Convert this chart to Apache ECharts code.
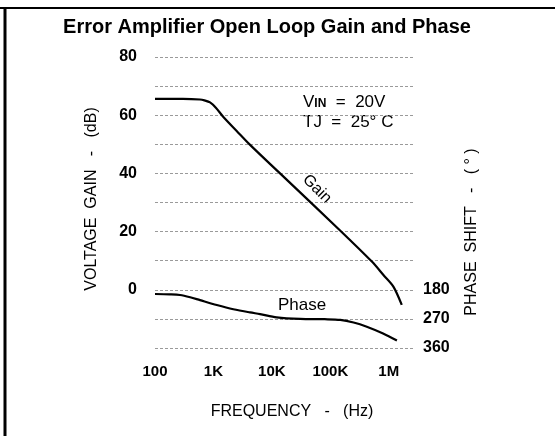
<!DOCTYPE html>
<html>
<head>
<meta charset="utf-8">
<script src="https://cdn.jsdelivr.net/npm/echarts@6/dist/echarts.min.js"></script>
<style>html,body{margin:0;padding:0;background:#fff;}#c{width:555px;height:436px;}</style>
</head>
<body>
<div id="c"></div>
<script>
// Frequency (Hz) and values
var gainFreq = [100, 300, 590, 700, 875, 1100, 1480, 2500, 4240, 13800, 147000, 514000, 811000, 1200000, 1670000];
var gainDb   = [65.6, 65.6, 65.4, 65.1, 64.4, 62.6, 59.4, 54.6, 49.8, 40.0, 20.4, 9.7, 5.1, 1.1, -5.2];
var phaseFreq = [100, 180, 268, 400, 590, 1140, 2190, 4240, 6280, 12100, 30400, 80000, 148000, 250000, 421000, 800000, 1380000];
var phaseDeg  = [193, 194, 196, 203, 212, 227, 240, 250, 255, 265, 270, 271, 273, 281, 294, 315, 337];
var freqTickLabels = {100: '100', 1000: '1K', 10000: '10K', 100000: '100K', 1000000: '1M'};
var gainTickLabels = [0, 20, 40, 60, 80];
var phaseTickLabels = [180, 270, 360];

var FONT = '"Liberation Sans", Arial, sans-serif';
var chart = echarts.init(document.getElementById('c'), null, {renderer: 'canvas'});

function pairs(xs, ys) { return xs.map(function (x, i) { return [x, ys[i]]; }); }

var gridLine = {show: true, lineStyle: {color: '#9a9a9a', width: 1, type: [3, 2]}};

chart.setOption({
  backgroundColor: '#fff',
  animation: false,
  title: {
    text: 'Error Amplifier Open Loop Gain and Phase',
    left: 262, top: 12, textAlign: 'center',
    textStyle: {fontFamily: FONT, fontSize: 20, fontWeight: 'bold', color: '#000'}
  },
  grid: {left: 155, right: 142, top: 57, bottom: 88},
  xAxis: {
    type: 'log', logBase: 10, min: 100, max: 2600000,
    axisLine: {show: false}, axisTick: {show: false}, splitLine: {show: false},
    minorTick: {show: false}, minorSplitLine: {show: false},
    axisLabel: {
      margin: 16, showMaxLabel: false, color: '#000',
      fontFamily: FONT, fontSize: 15, fontWeight: 'bold',
      formatter: function (v) { var k = Math.round(v); return freqTickLabels[k] || ''; }
    }
  },
  yAxis: [{
    type: 'value', min: -20, max: 80, interval: 10,
    axisLine: {show: false}, axisTick: {show: false}, splitLine: gridLine,
    axisLabel: {
      margin: 18, color: '#000', fontFamily: FONT, fontSize: 16, fontWeight: 'bold',
      formatter: function (v) { return gainTickLabels.indexOf(v) >= 0 ? String(v) : ''; }
    }
  }, {
    type: 'value', min: -540, max: 360, interval: 90, inverse: true, position: 'right',
    axisLine: {show: false}, axisTick: {show: false}, splitLine: {show: false},
    axisLabel: {
      margin: 10, color: '#000', fontFamily: FONT, fontSize: 16, fontWeight: 'bold',
      formatter: function (v) { return phaseTickLabels.indexOf(v) >= 0 ? String(v) : ''; }
    }
  }],
  series: [{
    name: 'Gain', type: 'line', yAxisIndex: 0, data: pairs(gainFreq, gainDb),
    showSymbol: false, smooth: 0.3,
    lineStyle: {color: '#000', width: 2.2}
  }, {
    name: 'Phase', type: 'line', yAxisIndex: 1, data: pairs(phaseFreq, phaseDeg),
    showSymbol: false, smooth: 0.3,
    lineStyle: {color: '#000', width: 2.2}
  }],
  graphic: [
    {type: 'line', shape: {x1: 0, y1: 8, x2: 555, y2: 8}, style: {stroke: '#000', lineWidth: 2}},
    {type: 'line', shape: {x1: 5, y1: 7, x2: 5, y2: 436}, style: {stroke: '#000', lineWidth: 3}},
    {type: 'text', x: 292, y: 412, style: {text: 'FREQUENCY   -   (Hz)', fontFamily: FONT, fontSize: 16, fill: '#000', align: 'center', verticalAlign: 'middle'}},
    {type: 'text', x: 92, y: 199, rotation: Math.PI / 2, style: {text: 'VOLTAGE  GAIN   -   (dB)', fontFamily: FONT, fontSize: 16, fill: '#000', align: 'center', verticalAlign: 'middle'}},
    {type: 'text', x: 472, y: 232, rotation: Math.PI / 2, style: {text: 'PHASE  SHIFT   -   ( ° )', fontFamily: FONT, fontSize: 16, fill: '#000', align: 'center', verticalAlign: 'middle'}},
    {type: 'text', x: 303, y: 102, style: {
      text: '{v|V}{s|IN}{v|  =  20V}', align: 'left', verticalAlign: 'middle',
      rich: {v: {fontFamily: FONT, fontSize: 17, fill: '#000'}, s: {fontFamily: FONT, fontSize: 12, fontWeight: 'bold', fill: '#000', padding: [3, 0, 0, 0]}}
    }},
    {type: 'text', x: 303, y: 122, style: {text: 'TJ  =  25° C', fontFamily: FONT, fontSize: 17, fill: '#000', align: 'left', verticalAlign: 'middle'}},
    {type: 'text', x: 302, y: 305, style: {text: 'Phase', fontFamily: FONT, fontSize: 17, fill: '#000', align: 'center', verticalAlign: 'middle'}},
    {type: 'text', x: 317, y: 189, rotation: -Math.PI / 4, style: {text: 'Gain', fontFamily: FONT, fontSize: 16, fill: '#000', align: 'center', verticalAlign: 'middle'}}
  ]
});
</script>
</body>
</html>
